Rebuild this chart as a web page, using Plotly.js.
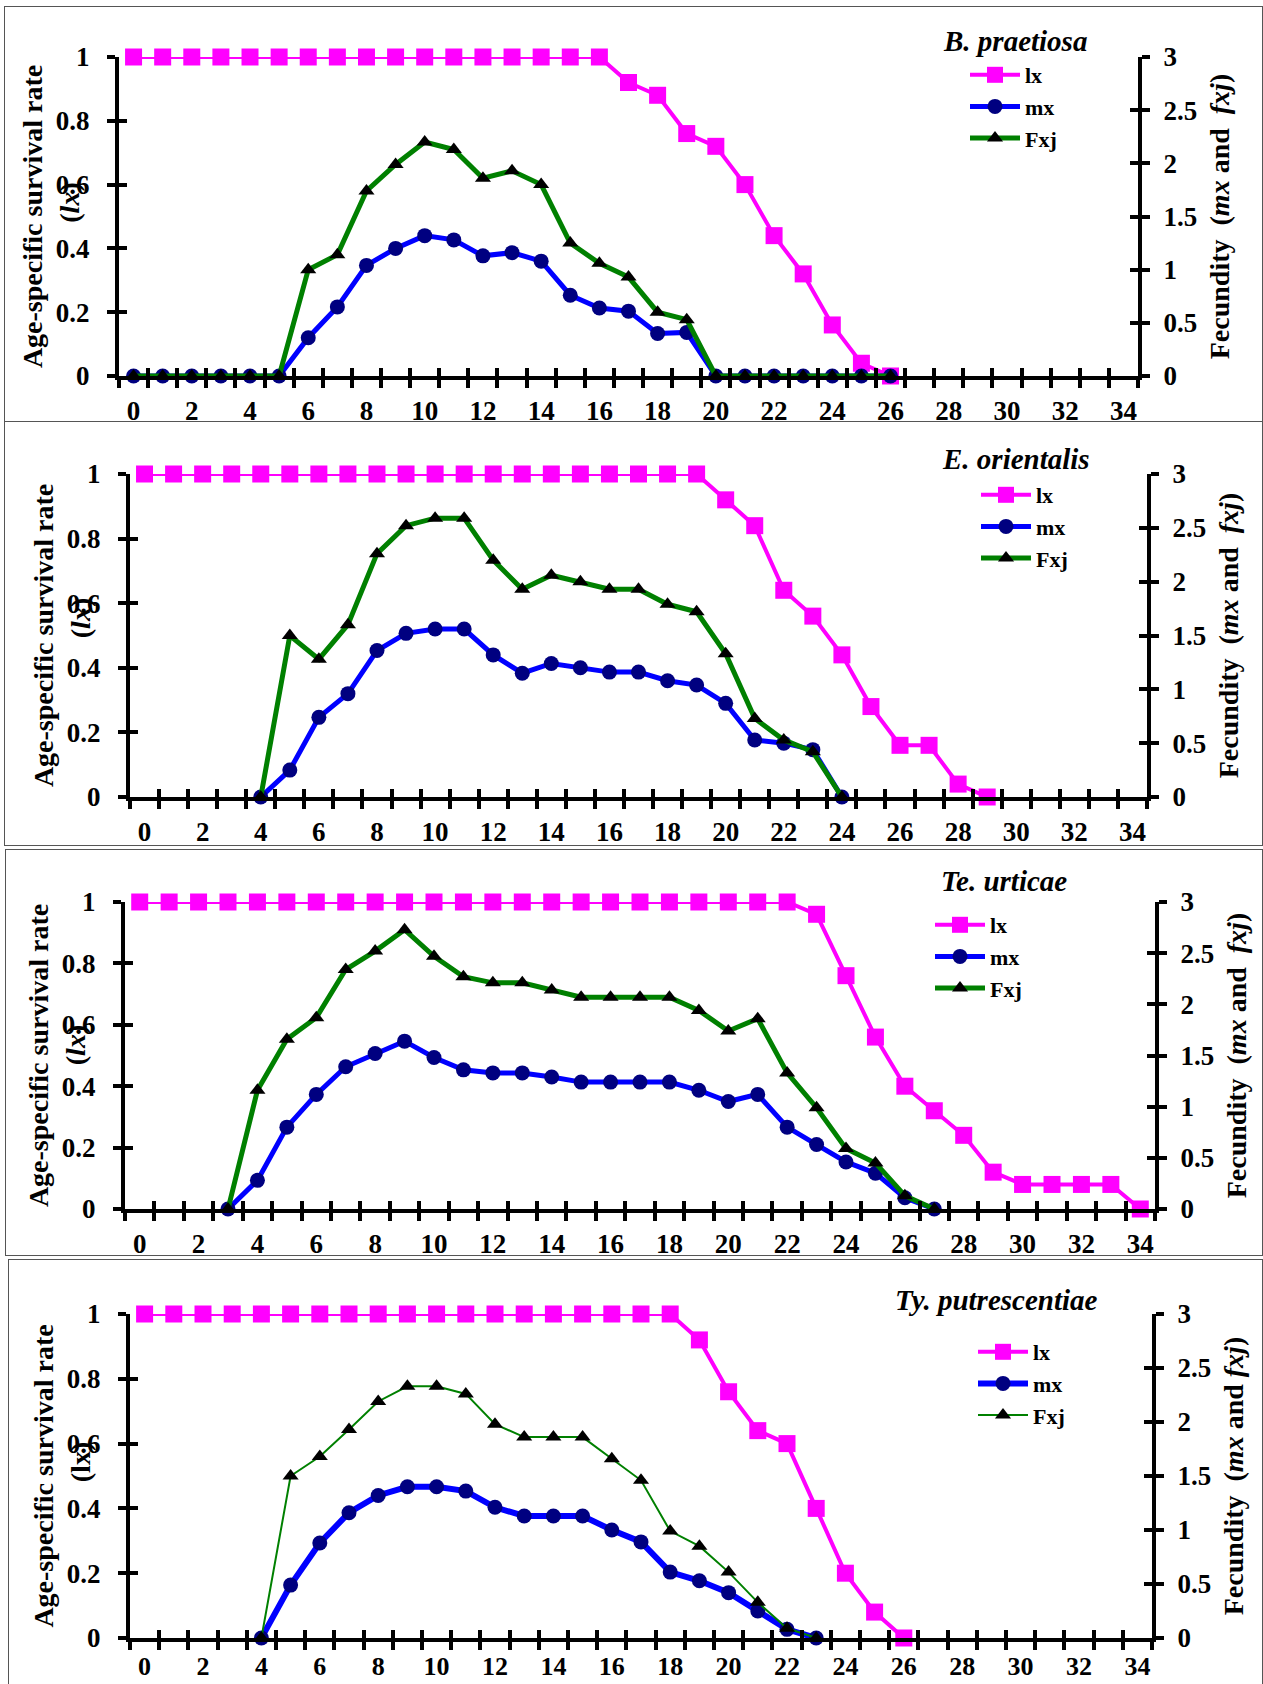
<!DOCTYPE html>
<html>
<head>
<meta charset="utf-8">
<script src="https://cdn.plot.ly/plotly-3.0.1.min.js"></script>
<style>
  html, body { margin: 0; padding: 0; background: #fff; }
  #page { position: relative; width: 1263px; height: 1684px; overflow: hidden; }
  .plot { position: absolute; left: 0; }
  .box { position: absolute; border: 1.5px solid #555; box-sizing: border-box; pointer-events: none; }
</style>
</head>
<body>
<div id="page">
  <div id="p1" class="plot" style="top:0px;"></div>
  <div id="p2" class="plot" style="top:421px;"></div>
  <div id="p3" class="plot" style="top:845px;"></div>
  <div id="p4" class="plot" style="top:1257px;"></div>
  <div class="box" style="left:4px; top:6px; width:1259px; height:416px;"></div>
  <div class="box" style="left:4px; top:421px; width:1259px; height:425px;"></div>
  <div class="box" style="left:5px; top:849px; width:1258px; height:407px;"></div>
  <div class="box" style="left:8px; top:1259px; width:1255px; height:426px;"></div>
</div>
<script>
// ---------------- DATA ----------------
const ageTickLabels = [0, 2, 4, 6, 8, 10, 12, 14, 16, 18, 20, 22, 24, 26, 28, 30, 32, 34];
const lxTicks = [0, 0.2, 0.4, 0.6, 0.8, 1];
const fecTicks = [0, 0.5, 1, 1.5, 2, 2.5, 3];

// B. praetiosa
const bpLxAge = [0,1,2,3,4,5,6,7,8,9,10,11,12,13,14,15,16,17,18,19,20,21,22,23,24,25,26];
const bpLx    = [1,1,1,1,1,1,1,1,1,1,1,1,1,1,1,1,1,0.92,0.88,0.76,0.72,0.60,0.44,0.32,0.16,0.04,0];
const bpFecAge = [0,1,2,3,4,5,6,7,8,9,10,11,12,13,14,15,16,17,18,19,20,21,22,23,24,25,26];
const bpMx    = [0,0,0,0,0,0,0.36,0.65,1.04,1.20,1.32,1.28,1.13,1.16,1.08,0.76,0.64,0.61,0.40,0.41,0,0,0,0,0,0,0];
const bpFxj   = [0,0,0,0,0,0,1.00,1.14,1.74,1.99,2.20,2.13,1.86,1.93,1.80,1.25,1.06,0.93,0.60,0.53,0,0,0,0,0,0,0];

// E. orientalis
const eoLxAge = [0,1,2,3,4,5,6,7,8,9,10,11,12,13,14,15,16,17,18,19,20,21,22,23,24,25,26,27,28,29];
const eoLx    = [1,1,1,1,1,1,1,1,1,1,1,1,1,1,1,1,1,1,1,1,0.92,0.84,0.64,0.56,0.44,0.28,0.16,0.16,0.04,0];
const eoFecAge = [4,5,6,7,8,9,10,11,12,13,14,15,16,17,18,19,20,21,22,23,24];
const eoMx    = [0,0.25,0.74,0.96,1.36,1.52,1.56,1.56,1.32,1.15,1.24,1.20,1.16,1.16,1.08,1.04,0.87,0.53,0.50,0.44,0];
const eoFxj   = [0,1.50,1.28,1.60,2.26,2.52,2.59,2.59,2.20,1.93,2.06,2.00,1.93,1.93,1.79,1.72,1.33,0.73,0.53,0.42,0];

// Te. urticae
const tuLxAge = [0,1,2,3,4,5,6,7,8,9,10,11,12,13,14,15,16,17,18,19,20,21,22,23,24,25,26,27,28,29,30,31,32,33,34];
const tuLx    = [1,1,1,1,1,1,1,1,1,1,1,1,1,1,1,1,1,1,1,1,1,1,1,0.96,0.76,0.56,0.40,0.32,0.24,0.12,0.08,0.08,0.08,0.08,0];
const tuFecAge = [3,4,5,6,7,8,9,10,11,12,13,14,15,16,17,18,19,20,21,22,23,24,25,26,27];
const tuMx    = [0,0.28,0.80,1.12,1.39,1.52,1.64,1.48,1.36,1.33,1.33,1.29,1.24,1.24,1.24,1.24,1.16,1.05,1.12,0.80,0.63,0.46,0.35,0.11,0];
const tuFxj   = [0,1.16,1.66,1.87,2.34,2.52,2.73,2.47,2.27,2.21,2.21,2.14,2.07,2.07,2.07,2.07,1.94,1.74,1.86,1.33,0.99,0.59,0.45,0.13,0];

// Ty. putrescentiae
const tpLxAge = [0,1,2,3,4,5,6,7,8,9,10,11,12,13,14,15,16,17,18,19,20,21,22,23,24,25,26];
const tpLx    = [1,1,1,1,1,1,1,1,1,1,1,1,1,1,1,1,1,1,1,0.92,0.76,0.64,0.60,0.40,0.20,0.08,0];
const tpFecAge = [4,5,6,7,8,9,10,11,12,13,14,15,16,17,18,19,20,21,22,23];
const tpMx    = [0,0.49,0.88,1.16,1.32,1.40,1.40,1.36,1.21,1.13,1.13,1.13,1.00,0.89,0.61,0.53,0.42,0.25,0.08,0];
const tpFxj   = [0,1.50,1.68,1.93,2.19,2.33,2.33,2.26,1.98,1.86,1.86,1.86,1.66,1.46,0.99,0.85,0.61,0.33,0.09,0];

// ---------------- DRAWING ----------------
const FONT = '"Liberation Serif", "Times New Roman", serif';
const W = 1263;
const EXTRA = 24; // plot divs extend below their frame so tick labels are never clipped
const boundaryTicks = [];
for (let i = 0; i <= 35; i++) boundaryTicks.push(i - 0.5);
const sp = function (n) { return '\u00a0'.repeat(n); };

const panels = [
  { id: 'p1', name: 'B. praetiosa', h: 421, l: 119, r: 125, t: 57, b: 45,
    lxAge: bpLxAge, lx: bpLx, fecAge: bpFecAge, mx: bpMx, fxj: bpFxj,
    lxTitle: sp(6) + 'Age-specific survival rate<br>' + sp(4) + '(<i>lx</i>)',
    fecTitle: sp(3) + 'Fecundity\u00a0\u00a0(<i>mx</i> and\u00a0\u00a0<i>fxj</i>)',
    titleX: 1015, titleY: 41, legX: 965, legY: 54, mxW: 5, fxW: 5, xFont: 27, xStand: 16 },
  { id: 'p2', name: 'E. orientalis', h: 424, l: 130, r: 116, t: 53, b: 48,
    lxAge: eoLxAge, lx: eoLx, fecAge: eoFecAge, mx: eoMx, fxj: eoFxj,
    lxTitle: sp(8) + 'Age-specific survival rate<br>' + sp(5) + '(<i>lx</i>)',
    fecTitle: sp(5) + 'Fecundity\u00a0\u00a0(<i>mx</i> and\u00a0\u00a0<i>fxj</i>)',
    titleX: 1016, titleY: 38, legX: 976, legY: 53, mxW: 5, fxW: 5, xFont: 27, xStand: 16 },
  { id: 'p3', name: 'Te. urticae', h: 412, l: 125, r: 108, t: 57, b: 48,
    lxAge: tuLxAge, lx: tuLx, fecAge: tuFecAge, mx: tuMx, fxj: tuFxj,
    lxTitle: sp(3) + 'Age-specific survival rate<br>' + sp(3) + '(<i>lx</i>)',
    fecTitle: sp(1) + 'Fecundity\u00a0\u00a0(<i>mx</i> and\u00a0\u00a0<i>fxj</i>)',
    titleX: 1004, titleY: 36, legX: 930, legY: 59, mxW: 5, fxW: 5, xFont: 27, xStand: 16 },
  { id: 'p4', name: 'Ty. putrescentiae', h: 427, l: 130, r: 111, t: 57, b: 46,
    lxAge: tpLxAge, lx: tpLx, fecAge: tpFecAge, mx: tpMx, fxj: tpFxj,
    lxTitle: sp(4) + 'Age-specific survival rate<br>' + sp(4) + '(lx)',
    fecTitle: sp(1) + 'Fecundity\u00a0\u00a0(<i>mx</i> and <i>fxj</i>)',
    titleX: 996, titleY: 43, legX: 973, legY: 74, mxW: 6, fxW: 2, xFont: 26, xStand: 10 }
];

function tickFont(size) { return { family: FONT, size: size, color: '#000', weight: 'bold' }; }

panels.forEach(function (p) {
  const pw = W - p.l - p.r;
  const ph = p.h - p.t - p.b;
  const px = function (v) { return (v - p.l) / pw; };
  const py = function (v) { return 1 - (v - p.t) / ph; };

  const traces = [
    { x: p.lxAge, y: p.lx, name: 'lx', xaxis: 'x', yaxis: 'y', type: 'scatter', mode: 'lines+markers',
      line: { color: '#FF00FF', width: 4 }, marker: { symbol: 'square', size: 17, color: '#FF00FF' },
      cliponaxis: false, hoverinfo: 'skip' },
    { x: p.fecAge, y: p.mx, name: 'mx', xaxis: 'x', yaxis: 'y2', type: 'scatter', mode: 'lines+markers',
      line: { color: '#0000FF', width: p.mxW }, marker: { symbol: 'circle', size: 15, color: '#000080' },
      cliponaxis: false, hoverinfo: 'skip' },
    { x: p.fecAge, y: p.fxj, name: 'Fxj', xaxis: 'x', yaxis: 'y2', type: 'scatter', mode: 'lines+markers',
      line: { color: '#008000', width: p.fxW }, marker: { symbol: 'triangle-up', size: 14, color: '#000000' },
      cliponaxis: false, hoverinfo: 'skip' }
  ];
  // empty helper traces so that the overlay axes (crossing ticks, labels, titles) are drawn
  [['x2', 'y'], ['x3', 'y'], ['x', 'y3'], ['x', 'y4']].forEach(function (ax) {
    traces.push({ x: p.lxAge, y: p.lx, xaxis: ax[0], yaxis: ax[1], type: 'scatter', mode: 'none',
      showlegend: false, hoverinfo: 'skip' });
  });

  const common = { showgrid: false, zeroline: false, fixedrange: true, tickcolor: '#000' };
  const layout = {
    width: W, height: p.h + EXTRA,
    margin: { l: p.l, r: p.r, t: p.t, b: p.b + EXTRA, pad: 0 },
    paper_bgcolor: 'rgba(0,0,0,0)', plot_bgcolor: 'rgba(0,0,0,0)',
    showlegend: true,
    legend: { x: px(p.legX), y: py(p.legY), xanchor: 'left', yanchor: 'top',
      bgcolor: 'rgba(0,0,0,0)', font: tickFont(22), itemwidth: 50, tracegroupgap: 0 },
    xaxis: Object.assign({}, common, { range: [-0.5, 34.5], tickmode: 'array', tickvals: boundaryTicks,
      ticks: 'outside', ticklen: 8, tickwidth: 4, showticklabels: false,
      showline: true, linewidth: 4, linecolor: '#000', anchor: 'y' }),
    xaxis2: Object.assign({}, common, { overlaying: 'x', range: [-0.5, 34.5], tickmode: 'array', tickvals: boundaryTicks,
      ticks: 'inside', ticklen: 8, tickwidth: 4, showticklabels: false, showline: false, anchor: 'y' }),
    xaxis3: Object.assign({}, common, { overlaying: 'x', range: [-0.5, 34.5], tickmode: 'array', tickvals: ageTickLabels,
      ticks: '', showticklabels: true, tickfont: tickFont(p.xFont), ticklabelstandoff: p.xStand, showline: false, anchor: 'y' }),
    yaxis: Object.assign({}, common, { range: [0, 1], tickmode: 'array', tickvals: lxTicks,
      ticks: 'outside', ticklen: 8, tickwidth: 4, tickfont: tickFont(27), ticklabelstandoff: 12,
      showline: true, linewidth: 4, linecolor: '#000', anchor: 'x' }),
    yaxis3: Object.assign({}, common, { overlaying: 'y', range: [0, 1], tickmode: 'array', tickvals: lxTicks,
      ticks: 'inside', ticklen: 8, tickwidth: 4, showticklabels: false, showline: false, anchor: 'x',
      title: { text: p.lxTitle, font: tickFont(28), standoff: 30 } }),
    yaxis2: Object.assign({}, common, { overlaying: 'y', side: 'right', range: [0, 3], tickmode: 'array', tickvals: fecTicks,
      ticks: 'outside', ticklen: 8, tickwidth: 4, tickfont: tickFont(27), ticklabelstandoff: 8,
      showline: true, linewidth: 4, linecolor: '#000', anchor: 'x',
      title: { text: p.fecTitle, font: tickFont(28), standoff: 14 } }),
    yaxis4: Object.assign({}, common, { overlaying: 'y', side: 'right', range: [0, 3], tickmode: 'array', tickvals: fecTicks,
      ticks: 'inside', ticklen: 8, tickwidth: 4, showticklabels: false, showline: false, anchor: 'x' }),
    annotations: [
      { text: '<i>' + p.name + '</i>', xref: 'paper', yref: 'paper', x: px(p.titleX), y: py(p.titleY),
        xanchor: 'center', yanchor: 'middle', showarrow: false, font: tickFont(29) }
    ]
  };
  Plotly.newPlot(p.id, traces, layout, { staticPlot: true, displayModeBar: false });
});
</script>
</body>
</html>
